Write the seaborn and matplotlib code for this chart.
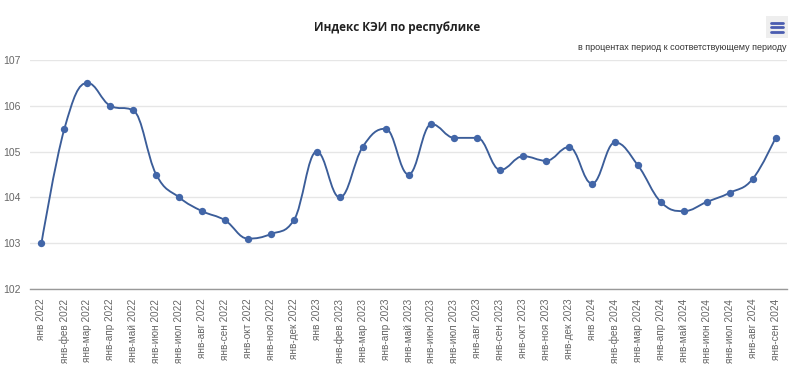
import numpy as np
import pandas as pd
import matplotlib
matplotlib.use("Agg")
import matplotlib.pyplot as plt
from matplotlib.path import Path
from matplotlib.patches import PathPatch, Rectangle
from matplotlib.lines import Line2D
import seaborn as sns

# data
months = ["янв", "янв-фев", "янв-мар", "янв-апр", "янв-май", "янв-июн",
          "янв-июл", "янв-авг", "янв-сен", "янв-окт", "янв-ноя", "янв-дек"]
labels = ([m + " 2022" for m in months] + [m + " 2023" for m in months]
          + [m + " 2024" for m in months[:9]])
values_2022 = [103.0, 105.5, 106.5, 106.0, 105.9, 104.5, 104.0, 103.7, 103.5, 103.1, 103.2, 103.5]
values_2023 = [105.0, 104.0, 105.1, 105.5, 104.5, 105.6, 105.3, 105.3, 104.6, 104.9, 104.8, 105.1]
values_2024 = [104.3, 105.2, 104.7, 103.9, 103.7, 103.9, 104.1, 104.4, 105.3]
values = values_2022 + values_2023 + values_2024

df = pd.DataFrame({"period": labels, "value": values})

sns.set_style("white")
plt.rcParams["font.family"] = ["Liberation Sans", "DejaVu Sans"]

fig = plt.figure(figsize=(8, 3.7), dpi=100)
ax = fig.add_axes([30 / 800, 81 / 370, 757 / 800, 229 / 370])

line_color = "#3b5d99"
dot_color = "#4266a8"


# highcharts-like spline path through the points
def spline_path(xs, ys, smoothing=1.5):
    n = len(xs)
    denom = smoothing + 1
    left = [None] * n
    right = [None] * n
    for i in range(n):
        x, y = xs[i], ys[i]
        if i == 0 or i == n - 1:
            left[i] = (x, y)
            right[i] = (x, y)
            continue
        lx, ly = xs[i - 1], ys[i - 1]
        nx, ny = xs[i + 1], ys[i + 1]
        lcx = (smoothing * x + lx) / denom
        lcy = (smoothing * y + ly) / denom
        rcx = (smoothing * x + nx) / denom
        rcy = (smoothing * y + ny) / denom
        corr = 0
        if rcx != lcx:
            corr = ((rcy - lcy) * (rcx - x)) / (rcx - lcx) + y - rcy
        lcy += corr
        rcy += corr
        if lcy > ly and lcy > y:
            lcy = max(ly, y)
            rcy = 2 * y - lcy
        elif lcy < ly and lcy < y:
            lcy = min(ly, y)
            rcy = 2 * y - lcy
        if rcy > ny and rcy > y:
            rcy = max(ny, y)
            lcy = 2 * y - rcy
        elif rcy < ny and rcy < y:
            rcy = min(ny, y)
            lcy = 2 * y - rcy
        left[i] = (lcx, lcy)
        right[i] = (rcx, rcy)
    verts = [(xs[0], ys[0])]
    codes = [Path.MOVETO]
    for i in range(1, n):
        verts += [right[i - 1], left[i], (xs[i], ys[i])]
        codes += [Path.CURVE4] * 3
    return Path(verts, codes)


xpos = np.arange(len(values))
ax.add_patch(PathPatch(spline_path(list(xpos), values), fill=False,
                       edgecolor=line_color, lw=1.35, zorder=2))
sns.scatterplot(data=df, x="period", y="value", ax=ax, color=dot_color,
                s=28, edgecolor=dot_color, linewidth=0, zorder=3)

ax.set_xlim(-0.5, len(values) - 0.5)
ax.set_ylim(102, 107)
ax.set_yticks([102, 103, 104, 105, 106, 107])
ax.yaxis.grid(True, color="#e6e6e6", lw=1)
ax.set_axisbelow(True)
for s in ["top", "right", "left"]:
    ax.spines[s].set_visible(False)
ax.spines["bottom"].set_color("#999999")
ax.spines["bottom"].set_linewidth(1)
ax.set_xlabel("")
ax.set_ylabel("")
ax.set_xticks(xpos)
ax.set_xticklabels(labels, rotation=90, fontsize=7.2, color="#666666")
ax.tick_params(axis="x", length=0, pad=7)
ax.tick_params(axis="y", length=0, pad=7, labelsize=7.5, labelcolor="#666666")

fig.text(397 / 800, 1 - 28 / 370, "Индекс КЭИ по республике", ha="center", va="center",
         fontsize=8.5, fontweight="bold", color="#222222", family=["Open Sans", "DejaVu Sans"])
fig.text(787 / 800, 1 - 47 / 370, "в процентах период к соответствующему периоду",
         ha="right", va="center", fontsize=6.5, color="#333333")

# menu icon
fig.add_artist(Rectangle((766 / 800, 1 - 38 / 370), 22 / 800, 22 / 370,
                         transform=fig.transFigure, facecolor="#eeeeee", edgecolor="none"))
for yy in [22.5, 27, 31.5]:
    fig.add_artist(Line2D([771 / 800, 783 / 800], [1 - yy / 370, 1 - yy / 370],
                          transform=fig.transFigure, color="#4a5cb0", lw=2))

fig.savefig("out.png", dpi=100, facecolor="white")
